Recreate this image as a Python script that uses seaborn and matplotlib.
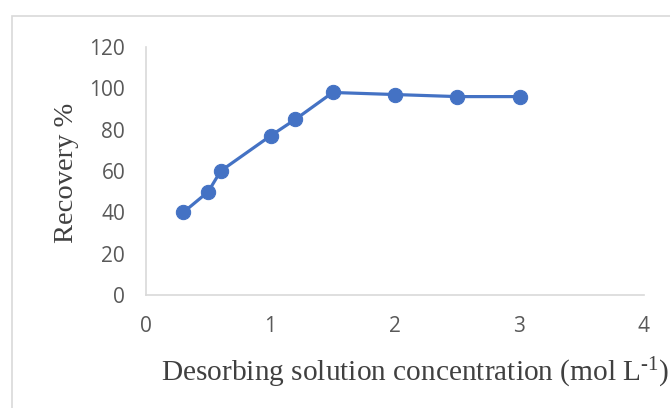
import matplotlib
matplotlib.use('Agg')
import matplotlib.pyplot as plt
import pandas as pd
import seaborn as sns
from matplotlib.patches import Rectangle

# data
concentration = [0.3, 0.5, 0.6, 1.0, 1.2, 1.5, 2.0, 2.5, 3.0]
recovery = [40, 50, 60, 77, 85, 98, 97, 96, 96]
x_ticks = [0, 1, 2, 3, 4]
y_ticks = [0, 20, 40, 60, 80, 100, 120]

df = pd.DataFrame({'conc': concentration, 'recovery': recovery})

sns.set_style('white')
plt.rcParams['font.family'] = ['Open Sans', 'DejaVu Sans']
plt.rcParams['mathtext.fontset'] = 'custom'
plt.rcParams['mathtext.rm'] = 'Liberation Serif'
plt.rcParams['mathtext.it'] = 'Liberation Serif'

fig = plt.figure(figsize=(6.7, 4.08), dpi=100)
ax = fig.add_axes([146 / 670, 1 - 295 / 408, 498 / 670, 248 / 408])

# outer chart border (Excel chart area)
fig.patches.append(Rectangle((12 / 670, -0.1), 1.2, 1 - 16 / 408 + 0.1,
                             transform=fig.transFigure, fill=False,
                             edgecolor='#d9d9d9', linewidth=1.2))

sns.lineplot(data=df, x='conc', y='recovery', ax=ax, color='#4472c4',
             linewidth=2.3, marker='o', markersize=10.3,
             markeredgecolor='#4472c4', markerfacecolor='#4472c4')

ax.set_xlim(0, 4)
ax.set_ylim(0, 120)
ax.set_xticks(x_ticks)
ax.set_yticks(y_ticks)
ax.tick_params(axis='both', length=0, labelsize=15, labelcolor='#595959')
ax.tick_params(axis='x', pad=15)
ax.tick_params(axis='y', pad=15)

for side in ['top', 'right']:
    ax.spines[side].set_visible(False)
for side in ['left', 'bottom']:
    ax.spines[side].set_color('#d9d9d9')
    ax.spines[side].set_linewidth(1.2)

ax.set_xlabel(r'Desorbing solution concentration (mol L$^{\text{-1}}$)',
              fontfamily='Liberation Serif', fontsize=21.2, color='#404040')
ax.set_ylabel('Recovery %', fontfamily='Liberation Serif', fontsize=20.5,
              color='#404040')
ax.xaxis.set_label_coords(0.54, -0.245)
ax.yaxis.label.set_va('center')
ax.yaxis.set_label_coords(-0.16, 0.494)

plt.savefig('out.png', dpi=100)
